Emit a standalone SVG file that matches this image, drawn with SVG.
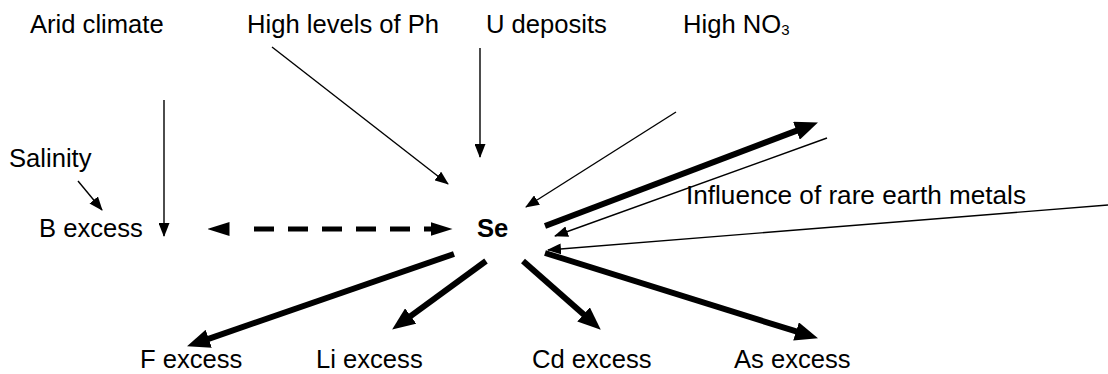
<svg xmlns="http://www.w3.org/2000/svg" width="1108" height="374" viewBox="0 0 1108 374">
<style>
text{font-family:"Liberation Sans",Arial,sans-serif;font-size:25.6px;fill:#000}
.b{font-weight:bold}
.thin{stroke:#000;stroke-width:1.4;fill:none;marker-end:url(#ht)}
.thick{stroke:#000;stroke-width:6;fill:none;marker-end:url(#hk)}
.dash{stroke:#000;stroke-width:5;fill:none;marker-start:url(#hd);marker-end:url(#hd)}
</style>
<defs>
<marker id="ht" markerUnits="userSpaceOnUse" markerWidth="14" markerHeight="11" viewBox="0 0 14 11" refX="13" refY="5.5" orient="auto"><path d="M0,0 L14,5.5 L0,11 z" fill="#000"/></marker>
<marker id="hk" markerUnits="userSpaceOnUse" markerWidth="23" markerHeight="19" viewBox="0 0 23 19" refX="1" refY="9.5" orient="auto"><path d="M0,0 L23,9.5 L0,19 z" fill="#000"/></marker>
<marker id="hd" markerUnits="userSpaceOnUse" markerWidth="22" markerHeight="14" viewBox="0 0 22 14" refX="0.5" refY="7" orient="auto-start-reverse"><path d="M0,0 L22,7 L0,14 z" fill="#000"/></marker>
</defs>
<g id="connectors">
<line class="thin" x1="164" y1="100" x2="164" y2="236"/>
<line class="thin" x1="78" y1="181" x2="102" y2="210"/>
<line class="thin" x1="272" y1="47" x2="448" y2="184"/>
<line class="thin" x1="480" y1="48" x2="480" y2="157"/>
<line class="thin" x1="676" y1="112" x2="526" y2="207"/>
<line class="thin" x1="827" y1="138" x2="555" y2="236"/>
<line class="thin" x1="1108" y1="205" x2="548" y2="250"/>
<line class="dash" x1="229" y1="229" x2="431" y2="229" stroke-dasharray="0 25 20 14 20 14 20 14 20 14 20 14 20 14"/>
<line class="thick" x1="545" y1="226" x2="797.4" y2="130.4"/>
<line class="thick" x1="454" y1="254" x2="207.8" y2="339.1"/>
<line class="thick" x1="486" y1="261" x2="409.9" y2="316.6"/>
<line class="thick" x1="523" y1="261" x2="584.3" y2="315.1"/>
<line class="thick" x1="545" y1="253" x2="797" y2="331.7"/>
</g>
<g id="arid"><text x="30" y="33">Arid climate</text></g>
<g id="ph"><text x="247" y="33">High levels of Ph</text></g>
<g id="u"><text x="486" y="33">U deposits</text></g>
<g id="no3"><text x="683" y="33">High NO<tspan font-size="15" dy="2">3</tspan></text></g>
<g id="salinity"><text x="9" y="167">Salinity</text></g>
<g id="bexcess"><text x="39" y="237">B excess</text></g>
<g id="se"><text class="b" x="477" y="237">Se</text></g>
<g id="ree"><text x="686" y="204" textLength="340" lengthAdjust="spacingAndGlyphs">Influence of rare earth metals</text></g>
<g id="fexcess"><text x="140" y="368">F excess</text></g>
<g id="liexcess"><text x="316" y="368">Li excess</text></g>
<g id="cdexcess"><text x="532" y="368">Cd excess</text></g>
<g id="asexcess"><text x="734" y="368">As excess</text></g>
</svg>
